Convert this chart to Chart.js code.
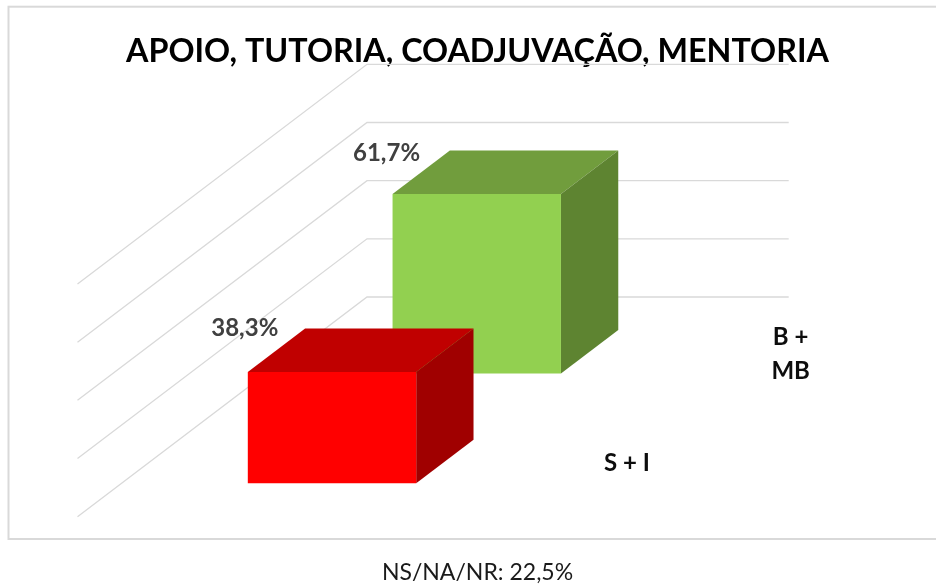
<!DOCTYPE html>
<html>
<head>
<meta charset="utf-8">
<script src="https://cdn.jsdelivr.net/npm/chart.js@4/dist/chart.umd.min.js"></script>
<style>
    html, body { margin: 0; padding: 0; background: #fff; overflow: hidden; }
    canvas { display: block; }
</style>
</head>
<body>
<canvas id="chart" width="936" height="587"></canvas>
<script>
const chartTitle = 'APOIO, TUTORIA, COADJUVAÇÃO, MENTORIA';
const footNote = 'NS/NA/NR: 22,5%';
const seriesNames = ['S + I', 'B + MB'];
const seriesLabels = ['S + I', ['B +', 'MB']];   // wrapped the way the depth axis shows them
const seriesValues = [38.3, 61.7];
const valueLabels = ['38,3%', '61,7%'];
const gridValues = [0, 20, 40, 60, 80];

const frontColors = ['#FF0000', '#92D050'];
const topColors = ['#C00000', '#719D3D'];
const sideColors = ['#A00000', '#5E8431'];

// --- Depth projection, one slot per series ---
const SLOT_DX = 144.75;
const SLOT_DY = 109.85;
const BAR_START = 0.304;
const BAR_END = 0.7;
const labelNudge = [[-3, -44], [-6, -41]];
const depthLabelNudge = [[56, 1], [75, 2]];

const FONT = 'Lato, Carlito, "Liberation Sans", sans-serif';
const GRID_COLOR = '#d9d9d9';

const frame3d = {
    id: 'frame3d',
    beforeDraw(chart) {
        const ctx = chart.ctx;
        ctx.save();
        ctx.strokeStyle = GRID_COLOR;
        ctx.lineWidth = 2;
        ctx.strokeRect(8.5, 6.7, 940, 532.3);
        ctx.restore();
    },
    beforeDatasetsDraw(chart) {
        const { ctx, chartArea, scales } = chart;
        const dx = SLOT_DX * seriesValues.length;
        const dy = SLOT_DY * seriesValues.length;
        ctx.save();
        ctx.strokeStyle = GRID_COLOR;
        ctx.lineWidth = 1.3;
        gridValues.forEach(v => {
            const y = scales.y.getPixelForValue(v);
            ctx.beginPath();
            ctx.moveTo(chartArea.left, y);
            ctx.lineTo(chartArea.left + dx, y - dy);
            ctx.lineTo(chartArea.right + dx + 0.7, y - dy);
            ctx.stroke();
        });
        ctx.restore();
    },
    // the bar itself is drawn by Chart.js under this translation, so only the
    // top and side faces are added here
    beforeDatasetDraw(chart, args) {
        const ctx = chart.ctx;
        const i = args.index;
        const bar = args.meta.data[0];
        const left = bar.x - bar.width / 2;
        const right = bar.x + bar.width / 2;
        const ddx = (BAR_END - BAR_START) * SLOT_DX;
        const ddy = (BAR_END - BAR_START) * SLOT_DY;
        ctx.save();
        ctx.translate((i + BAR_START) * SLOT_DX, -(i + BAR_START) * SLOT_DY);

        ctx.fillStyle = topColors[i];
        ctx.beginPath();
        ctx.moveTo(left, bar.y);
        ctx.lineTo(right, bar.y);
        ctx.lineTo(right + ddx, bar.y - ddy);
        ctx.lineTo(left + ddx, bar.y - ddy);
        ctx.closePath();
        ctx.fill();

        ctx.fillStyle = sideColors[i];
        ctx.beginPath();
        ctx.moveTo(right, bar.y);
        ctx.lineTo(right + ddx, bar.y - ddy);
        ctx.lineTo(right + ddx, bar.base - ddy);
        ctx.lineTo(right, bar.base);
        ctx.closePath();
        ctx.fill();
    },
    afterDatasetDraw(chart) {
        chart.ctx.restore();
    },
    afterDatasetsDraw(chart) {
        const { ctx, chartArea } = chart;
        ctx.save();
        ctx.textAlign = 'center';
        ctx.textBaseline = 'middle';

        // value labels above the top left corner of each bar
        ctx.fillStyle = '#404040';
        ctx.font = '700 24px ' + FONT;
        seriesValues.forEach((v, i) => {
            const bar = chart.getDatasetMeta(i).data[0];
            const x = bar.x - bar.width / 2 + (i + BAR_START) * SLOT_DX + labelNudge[i][0];
            const y = bar.y - (i + BAR_START) * SLOT_DY + labelNudge[i][1];
            ctx.fillText(valueLabels[i], x, y);
        });

        // series names along the depth axis
        ctx.fillStyle = '#0d0d0d';
        seriesLabels.forEach((label, i) => {
            const lines = [].concat(label);
            const x = chartArea.right + (i + 0.5) * SLOT_DX + depthLabelNudge[i][0];
            const y = chartArea.bottom - (i + 0.5) * SLOT_DY + depthLabelNudge[i][1];
            lines.forEach((line, n) => {
                ctx.fillText(line, x, y + (n - (lines.length - 1) / 2) * 34);
            });
        });
        ctx.restore();
    }
};

const hiddenAxis = width => ({
    display: true,
    ticks: { display: false },
    grid: { display: false },
    border: { display: false },
    afterFit: scale => { scale.width = width; }
});

new Chart(document.getElementById('chart'), {
    type: 'bar',
    data: {
        labels: [chartTitle],
        datasets: seriesNames.map((name, i) => ({
            label: name,
            data: [seriesValues[i]],
            backgroundColor: frontColors[i],
            borderWidth: 0,
            grouped: false,
            clip: false,
            barPercentage: 0.4,
            categoryPercentage: 1,
            yAxisID: 'y'
        }))
    },
    options: {
        responsive: false,
        animation: false,
        events: [],
        layout: { autoPadding: false, padding: { left: 19, right: 0, top: 0, bottom: 0 } },
        plugins: {
            legend: { display: false },
            tooltip: { enabled: false },
            title: {
                display: true,
                text: chartTitle,
                color: '#000',
                font: { family: FONT, size: 32.3, weight: '700', lineHeight: 1.2 },
                padding: { top: 32.6, bottom: 212.64 }
            },
            subtitle: {
                display: true,
                position: 'bottom',
                text: footNote,
                color: '#1a1a1a',
                font: { family: FONT, size: 23, weight: '400', lineHeight: 1.2 },
                padding: { top: 42, bottom: 0.7 }
            }
        },
        scales: {
            x: { display: false },
            y: Object.assign(hiddenAxis(58.5), { position: 'left', min: 0, max: 80 }),
            yRight: Object.assign(hiddenAxis(437.5), { position: 'right' })
        }
    },
    plugins: [frame3d]
});
</script>
</body>
</html>
